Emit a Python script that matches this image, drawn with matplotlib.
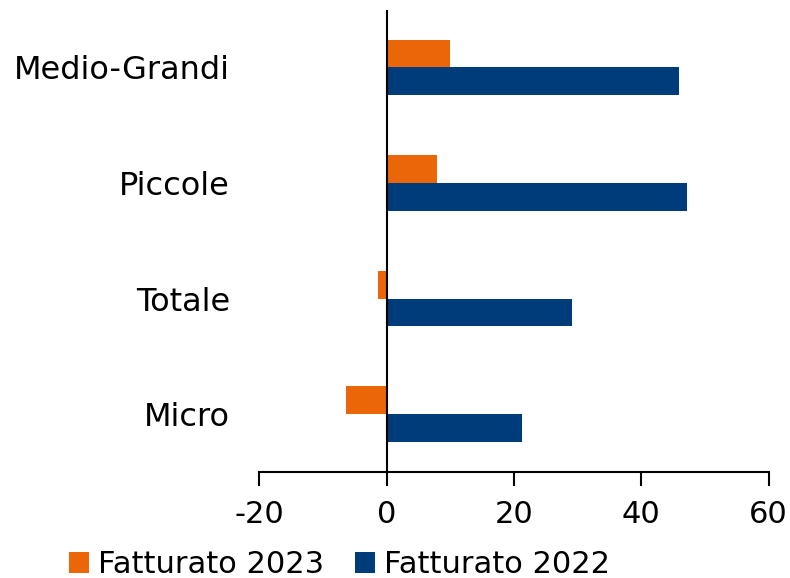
import matplotlib
matplotlib.use("Agg")
import matplotlib.pyplot as plt
import numpy as np

categories = ["Micro", "Totale", "Piccole", "Medio-Grandi"]
fatturato_2023 = [-6.4, -1.4, 8.0, 10.0]
fatturato_2022 = [21.3, 29.2, 47.1, 46.0]
xticks = [-20, 0, 20, 40, 60]

plt.rcParams['font.family'] = ['DejaVu Sans']

fig = plt.figure(figsize=(7.9, 5.78), dpi=100)
ax = fig.add_axes([0.328, 0.1834, 0.645, 0.8])

y = np.arange(len(categories))
h = 0.24
c23 = "#EB6608"
c22 = "#003B7A"
ax.barh(y + h/2, fatturato_2023, height=h, color=c23, label="Fatturato 2023")
ax.barh(y - h/2, fatturato_2022, height=h, color=c22, label="Fatturato 2022")

ax.axvline(0, color="black", linewidth=1.5, zorder=3)
ax.set_xlim(-20, 60)
ax.set_ylim(-0.5, 3.5)
ax.set_xticks(xticks)
ax.set_xticklabels([str(t) for t in xticks], fontsize=22)
ax.set_yticks(y)
ax.set_yticklabels(categories, fontsize=23)
ax.tick_params(axis='y', length=0, pad=21)
ax.tick_params(axis='x', direction='out', length=10, width=1.5, pad=10)
for s in ["top", "right", "left"]:
    ax.spines[s].set_visible(False)
ax.spines["bottom"].set_linewidth(1.5)

fig.legend(loc="lower center", bbox_to_anchor=(0.43, -0.05), ncol=2, frameon=False,
           fontsize=22, handlelength=0.65, handleheight=0.65, handletextpad=0.3,
           columnspacing=1.0)

fig.savefig("out.png", dpi=100)
